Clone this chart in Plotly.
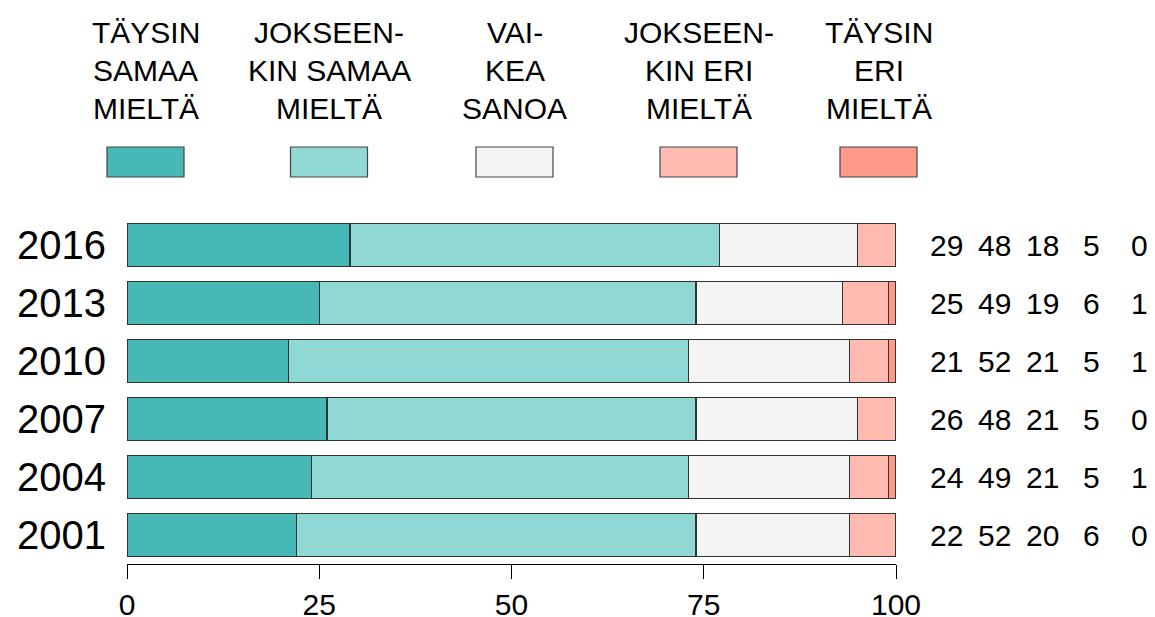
import plotly.graph_objects as go

# ---- data ----
years = ["2016", "2013", "2010", "2007", "2004", "2001"]
taysin_samaa = [29, 25, 21, 26, 24, 22]
jokseenkin_samaa = [48, 49, 52, 48, 49, 52]
vaikea_sanoa = [18, 19, 21, 21, 21, 20]
jokseenkin_eri = [5, 6, 5, 5, 5, 6]
taysin_eri = [0, 1, 1, 0, 1, 0]

categories = [
    ["TÄYSIN", "SAMAA", "MIELTÄ"],
    ["JOKSEEN-", "KIN SAMAA", "MIELTÄ"],
    ["VAI-", "KEA", "SANOA"],
    ["JOKSEEN-", "KIN ERI", "MIELTÄ"],
    ["TÄYSIN", "ERI", "MIELTÄ"],
]
series = [taysin_samaa, jokseenkin_samaa, vaikea_sanoa, jokseenkin_eri, taysin_eri]
colors = ["#46B9B6", "#8FD8D4", "#F4F4F4", "#FFBBAF", "#FF998A"]
x_ticks = [0, 25, 50, 75, 100]

# ---- layout geometry (page pixels; the page body adds an 8px offset) ----
OFF = 8
W, H = 1155, 617
PL, PR, PT, PB = 127, 896, 216, 564   # plot area in page pixels
PW, PH = PR - PL, PB - PT
FIG_W, FIG_H = W - OFF, H - OFF
ML, MT = PL - OFF, PT - OFF
MR, MB = FIG_W - (PR - OFF), FIG_H - (PB - OFF)


def px_x(p):
    return (p - PL) / PW


def px_y(p):
    return (PB - p) / PH


FONT = "Liberation Sans, Arial, sans-serif"

fig = go.Figure()
plot_years = years[::-1]
for name, vals, col in zip(categories, series, colors):
    fig.add_trace(go.Bar(
        y=plot_years,
        x=vals[::-1],
        orientation="h",
        name=" ".join(name),
        marker=dict(color=col, line=dict(color="#333333", width=1.2)),
        showlegend=False,
        hoverinfo="x+name",
    ))

annotations = []
shapes = []

# legend: swatches and labels
legend_centers = [145.5, 329, 514.5, 698.5, 878.5]
line_y = [32.5, 70.5, 109]
for cx, lines, col in zip(legend_centers, categories, colors):
    for ly, txt in zip(line_y, lines):
        annotations.append(dict(
            x=px_x(cx), y=px_y(ly), xref="paper", yref="paper",
            text=txt, showarrow=False, xanchor="center", yanchor="middle",
            font=dict(family=FONT, size=30, color="black"),
        ))
    shapes.append(dict(
        type="rect", xref="paper", yref="paper",
        x0=px_x(cx - 38.5), x1=px_x(cx + 38.5),
        y0=px_y(177), y1=px_y(147),
        fillcolor=col, line=dict(color="#444444", width=1.2),
    ))

# value columns at right (y given as category index)
num_x = [946, 994, 1042, 1091, 1139]
for cx, vals in zip(num_x, series):
    for yr, v in zip(years, vals):
        annotations.append(dict(
            x=px_x(cx), y=plot_years.index(yr), xref="paper", yref="y",
            text=str(v), showarrow=False, xanchor="center", yanchor="middle",
            font=dict(family=FONT, size=30, color="black"),
        ))

fig.update_layout(
    width=FIG_W, height=FIG_H,
    margin=dict(l=ML, r=MR, t=MT, b=MB, pad=0),
    barmode="stack",
    bargap=0.26,
    plot_bgcolor="white",
    paper_bgcolor="white",
    annotations=annotations,
    shapes=shapes,
    font=dict(family=FONT, color="black"),
    xaxis=dict(
        range=[0, 100], tickvals=x_ticks, ticktext=[str(t) for t in x_ticks],
        showgrid=False, zeroline=False,
        showline=True, linecolor="black", linewidth=1,
        ticks="outside", ticklen=14, tickcolor="black", tickwidth=1,
        tickfont=dict(family=FONT, size=30, color="black"),
        automargin=False, fixedrange=True,
    ),
    yaxis=dict(
        type="category",
        categoryorder="array", categoryarray=plot_years,
        range=[-0.5, 5.5],
        showgrid=False, zeroline=False, showline=False, ticks="",
        tickfont=dict(family=FONT, size=40, color="black"),
        ticklabelstandoff=20,
        automargin=False, fixedrange=True,
    ),
)

fig.write_html("out.html")
